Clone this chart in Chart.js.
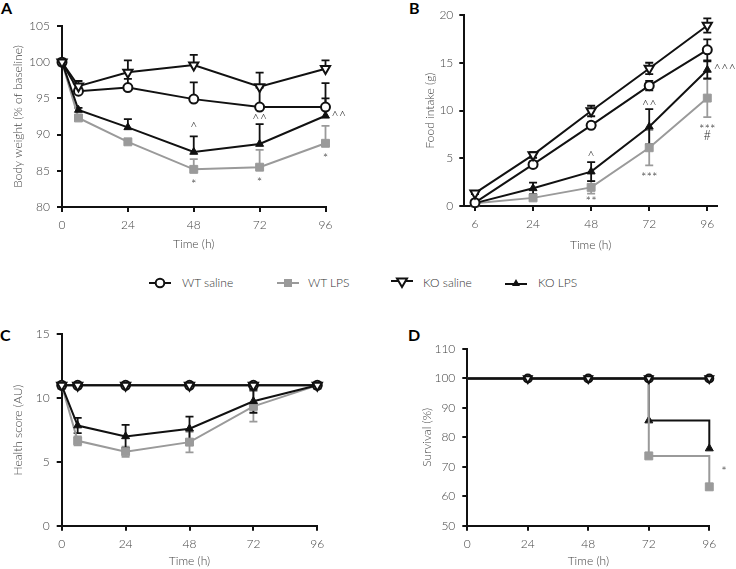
<!DOCTYPE html>
<html><head><meta charset="utf-8">
<script src="https://cdn.jsdelivr.net/npm/chart.js@4.4.0/dist/chart.umd.min.js"></script>
<style>
body{margin:0;background:#fff;width:736px;height:569px;position:relative;overflow:hidden;font-family:Lato,"Open Sans",sans-serif;}
canvas{position:absolute;}
.pl{position:absolute;font-weight:bold;font-size:16px;color:#000;line-height:16px;}
.leg{position:absolute;font-size:12px;font-weight:300;color:#333;line-height:14px;white-space:nowrap;}
svg{position:absolute;}
</style></head><body>
<div class="pl" style="left:1px;top:0px">A</div>
<div class="pl" style="left:409px;top:0px">B</div>
<div class="pl" style="left:0px;top:327px">C</div>
<div class="pl" style="left:408px;top:327px">D</div>

<svg style="left:148px;top:276px" width="24" height="14"><line x1="1" y1="7" x2="23" y2="7" stroke="#111" stroke-width="2"/><circle cx="12" cy="7" r="4.3" fill="#fff" stroke="#111" stroke-width="2"/></svg>
<div class="leg" style="left:182px;top:276px">WT saline</div>
<svg style="left:276px;top:276px" width="24" height="14"><line x1="1" y1="7" x2="23" y2="7" stroke="#9a9a9a" stroke-width="2"/><rect x="8" y="3" width="8" height="8" fill="#9a9a9a"/></svg>
<div class="leg" style="left:308px;top:276px">WT LPS</div>
<svg style="left:390px;top:276px" width="24" height="14"><line x1="1" y1="5" x2="23" y2="5" stroke="#111" stroke-width="2"/><polygon points="7,2.5 17,2.5 12,11" fill="#fff" stroke="#111" stroke-width="2"/></svg>
<div class="leg" style="left:423px;top:276px">KO saline</div>
<svg style="left:504px;top:276px" width="24" height="14"><line x1="1" y1="8" x2="23" y2="8" stroke="#111" stroke-width="2"/><polygon points="8,10 16,10 12,3" fill="#111"/></svg>
<div class="leg" style="left:538px;top:276px">KO LPS</div>

<canvas id="cA" width="368" height="260" style="left:0px;top:0px"></canvas>
<canvas id="cB" width="366" height="260" style="left:370px;top:0px"></canvas>
<canvas id="cC" width="368" height="279" style="left:0px;top:290px"></canvas>
<canvas id="cD" width="366" height="279" style="left:370px;top:290px"></canvas>

<script>
// ---------- DATA ----------
// Panel A: body weight (% of baseline)
const hoursA = [0, 6, 24, 48, 72, 96];
const A_wtSaline = [100, 96.0, 96.5, 94.9, 93.8, 93.8];
const A_wtLps    = [100, 92.3, 89.0, 85.2, 85.5, 88.8];
const A_koSaline = [100, 96.7, 98.6, 99.6, 96.6, 99.1];
const A_koLps    = [100, 93.4, 91.0, 87.6, 88.7, 92.6];
const A_wtSalineErr = [0, 0.5, 1.2, 2.3, 2.7, 3.3];
const A_wtLpsErr    = [0, 0.4, 0.4, 1.4, 2.4, 2.4];
const A_koSalineErr = [0, 0.7, 1.65, 1.4, 1.95, 1.15];
const A_koLpsErr    = [0, 0.3, 1.15, 2.15, 2.75, 2.4];
const A_xTicks = [0, 24, 48, 72, 96];
const A_yTicks = [80, 85, 90, 95, 100, 105];
const A_notes = [
  {x: 48, y: 91.0, t: '^'}, {x: 72, y: 92.1, t: '^^'}, {x: 100.8, y: 92.4, t: '^^'},
  {x: 48, y: 83.1, t: '*'}, {x: 72, y: 83.4, t: '*'}, {x: 96, y: 86.6, t: '*'}
];

// Panel B: food intake (g), categorical time points
const B_labels = ['6', '24', '48', '72', '96'];
const B_wtSaline = [0.35, 4.35, 8.45, 12.6, 16.35];
const B_wtLps    = [0.3, 0.85, 1.95, 6.1, 11.3];
const B_koSaline = [1.35, 5.35, 9.95, 14.4, 18.9];
const B_koLps    = [0.3, 1.85, 3.6, 8.3, 14.25];
const B_wtSalineErr = [0.1, 0.3, 0.3, 0.5, 1.1];
const B_wtLpsErr    = [0.1, 0.2, 0.65, 1.85, 2.0];
const B_koSalineErr = [0.1, 0.3, 0.55, 0.6, 0.75];
const B_koLpsErr    = [0.1, 0.6, 1.0, 1.85, 0.9];
const B_yTicks = [0, 5, 10, 15, 20];
const B_notes = [
  {x: 2, y: 5.2, t: '^'}, {x: 3, y: 10.5, t: '^^'}, {x: 4.30, y: 14.25, t: '^^^'},
  {x: 2, y: 0.45, t: '**'}, {x: 3, y: 2.9, t: '***'}, {x: 4, y: 7.95, t: '***'}, {x: 4, y: 7.3, t: '#'}
];

// Panel C: health score (AU)
const hoursC = [0, 6, 24, 48, 72, 96];
const C_wtSaline = [11, 11, 11, 11, 11, 11];
const C_wtLps    = [11, 6.65, 5.8, 6.55, 9.35, 11];
const C_koSaline = [11, 11, 11, 11, 11, 11];
const C_koLps    = [11, 7.85, 7.0, 7.6, 9.75, 11];
const C_wtLpsErr = [0, 0.35, 0.4, 0.8, 1.2, 0];
const C_koLpsErr = [0, 0.6, 0.9, 0.95, 0.9, 0];
const C_xTicks = [0, 24, 48, 72, 96];
const C_yTicks = [0, 5, 10, 15];

// Panel D: survival (%)
const hoursD = [0, 24, 48, 72, 96];
const D_wtSaline = [100, 100, 100, 100, 100];
const D_wtLps    = [100, 100, 100, 73.7, 63.2];
const D_koSaline = [100, 100, 100, 100, 100];
const D_koLps    = [100, 100, 100, 85.7, 76.2];
const D_xTicks = [0, 24, 48, 72, 96];
const D_yTicks = [50, 60, 70, 80, 90, 100, 110];
const D_notes = [{x: 101.8, y: 68.3, t: '*'}];

// ---------- STYLES ----------
const BLACK = '#111';
const GREY = '#9a9a9a';
const TXT = '#444';
Chart.defaults.font.family = 'Lato, "Open Sans", sans-serif';
Chart.defaults.font.size = 12;
Chart.defaults.font.weight = 300;
Chart.defaults.color = TXT;

const styles = {
  wtSaline: {borderColor: BLACK, pointStyle: 'circle', pointRadius: 4.5, pointBackgroundColor: '#fff', pointBorderColor: BLACK, pointBorderWidth: 2, order: 1},
  koSaline: {borderColor: BLACK, pointStyle: 'triangle', pointRotation: 180, pointRadius: 5.3, pointBackgroundColor: '#fff', pointBorderColor: BLACK, pointBorderWidth: 2, order: 0},
  koLps:    {borderColor: BLACK, pointStyle: 'triangle', pointRadius: 4.6, pointBackgroundColor: BLACK, pointBorderColor: BLACK, pointBorderWidth: 1, order: 2},
  wtLps:    {borderColor: GREY, pointStyle: 'rect', pointRadius: 5.6, pointBackgroundColor: GREY, pointBorderColor: GREY, pointBorderWidth: 1, order: 3}
};

function mk(label, xs, ys, key, errU, errD, extra) {
  return Object.assign({
    label, data: xs.map((x, i) => ({x, y: ys[i]})), vals: ys,
    errUp: errU || null, errDown: errD || null,
    borderWidth: 2, fill: false, tension: 0, clip: false
  }, styles[key], extra || {});
}

const errPlugin = {
  id: 'errbars',
  beforeDatasetsDraw(chart) {
    const ctx = chart.ctx, ys = chart.scales.y;
    const idx = chart.data.datasets.map((d, i) => i).sort((a, b) => chart.data.datasets[b].order - chart.data.datasets[a].order);
    idx.forEach(i => {
      const ds = chart.data.datasets[i];
      if (!ds.errUp && !ds.errDown) return;
      const meta = chart.getDatasetMeta(i);
      ctx.save();
      ctx.strokeStyle = ds.borderColor; ctx.lineWidth = 1.8;
      meta.data.forEach((pt, j) => {
        const v = ds.vals[j];
        const u = ds.errUp ? ds.errUp[j] : 0;
        const d = ds.errDown ? ds.errDown[j] : 0;
        if (!u && !d) return;
        const x = pt.x, yT = ys.getPixelForValue(v + u), yB = ys.getPixelForValue(v - d);
        ctx.beginPath();
        ctx.moveTo(x, yT); ctx.lineTo(x, yB);
        if (u) { ctx.moveTo(x - 4, yT); ctx.lineTo(x + 4, yT); }
        if (d) { ctx.moveTo(x - 4, yB); ctx.lineTo(x + 4, yB); }
        ctx.stroke();
      });
      ctx.restore();
    });
  }
};

function notesPlugin(items) {
  return {
    id: 'notes',
    afterDatasetsDraw(chart) {
      const ctx = chart.ctx, xs = chart.scales.x, ys = chart.scales.y;
      ctx.save();
      ctx.fillStyle = '#333';
      ctx.font = '300 13px Lato, "Open Sans", sans-serif';
      ctx.textAlign = 'center'; ctx.textBaseline = 'middle';
      items.forEach(n => ctx.fillText(n.t, xs.getPixelForValue(n.x), ys.getPixelForValue(n.y)));
      ctx.restore();
    }
  };
}

function axis(min, max, ticks, title, fitKey, fitVal, pad, labelCb, titlePad) {
  return {
    type: 'linear', min, max,
    afterBuildTicks: s => { s.ticks = ticks.map(v => ({value: v})); },
    afterFit: s => { s[fitKey] = fitVal; },
    grid: {display: true, drawOnChartArea: false, drawTicks: true, tickLength: 5, color: BLACK, lineWidth: 2},
    border: {display: true, color: BLACK, width: 2},
    ticks: {padding: pad, color: TXT, font: {size: 12, weight: 300}, callback: labelCb || (v => v)},
    title: {display: true, text: title, color: TXT, font: {size: 12, weight: 300}, padding: titlePad}
  };
}

function makeChart(id, datasets, xAxis, yAxis, padding, plugins) {
  return new Chart(document.getElementById(id), {
    type: 'line',
    data: {datasets},
    options: {
      responsive: false, animation: false, events: [],
      layout: {padding},
      plugins: {legend: {display: false}, tooltip: {enabled: false}},
      scales: {x: xAxis, y: yAxis}
    },
    plugins: [errPlugin].concat(plugins || [])
  });
}

// Panel A
makeChart('cA', [
  mk('WT saline', hoursA, A_wtSaline, 'wtSaline', A_wtSalineErr),
  mk('WT LPS', hoursA, A_wtLps, 'wtLps', A_wtLpsErr),
  mk('KO saline', hoursA, A_koSaline, 'koSaline', A_koSalineErr),
  mk('KO LPS', hoursA, A_koLps, 'koLps', A_koLpsErr)
],
  axis(0, 96, A_xTicks, 'Time (h)', 'height', 44.2, 6, null, {top: 4, bottom: 0}),
  axis(80, 105, A_yTicks, 'Body weight (% of baseline)', 'width', 55, 7, null, {top: 4, bottom: 4}),
  {left: 7, top: 26, right: 42.5, bottom: 8.8}, [notesPlugin(A_notes)]);

// Panel B
const idxB = B_labels.map((l, i) => i);
makeChart('cB', [
  mk('WT saline', idxB, B_wtSaline, 'wtSaline', B_wtSalineErr, B_wtSalineErr),
  mk('WT LPS', idxB, B_wtLps, 'wtLps', B_wtLpsErr, B_wtLpsErr),
  mk('KO saline', idxB, B_koSaline, 'koSaline', B_koSalineErr, B_koSalineErr),
  mk('KO LPS', idxB, B_koLps, 'koLps', B_koLpsErr, B_koLpsErr)
],
  axis(-0.184, 4.167, idxB, 'Time (h)', 'height', 46.2, 6, v => B_labels[Math.round(v)], {top: 4, bottom: 0}),
  axis(0, 20, B_yTicks, 'Food intake (g)', 'width', 45.5, 6, null, {top: 4, bottom: 4}),
  {left: 48.8, top: 15, right: 19, bottom: 7.8}, [notesPlugin(B_notes)]);

// Panel C
makeChart('cC', [
  mk('WT saline', hoursC, C_wtSaline, 'wtSaline'),
  mk('WT LPS', hoursC, C_wtLps, 'wtLps', C_wtLpsErr, C_wtLpsErr),
  mk('KO saline', hoursC, C_koSaline, 'koSaline'),
  mk('KO LPS', hoursC, C_koLps, 'koLps', C_koLpsErr, C_koLpsErr)
],
  axis(0, 96, C_xTicks, 'Time (h)', 'height', 42.5, 6, null, {top: 4, bottom: 0}),
  axis(0, 15, C_yTicks, 'Health score (AU)', 'width', 54.7, 7, null, {top: 4, bottom: 4}),
  {left: 7, top: 44.3, right: 50.7, bottom: 0.8}, []);

// Panel D
const rD = hoursD.map((h, i) => i === 0 ? 0 : 1);
function dStyle(key, r) { return {stepped: 'before', pointRadius: rD.map(v => v * r)}; }
makeChart('cD', [
  mk('WT saline', hoursD, D_wtSaline, 'wtSaline', null, null, dStyle('wtSaline', 4)),
  mk('WT LPS', hoursD, D_wtLps, 'wtLps', null, null, Object.assign(dStyle('wtLps', 5.6), {order: 1.5, pointRadius: [0, 0, 0, 5.6, 5.6]})),
  mk('KO saline', hoursD, D_koSaline, 'koSaline', null, null, dStyle('koSaline', 4.5)),
  mk('KO LPS', hoursD, D_koLps, 'koLps', null, null, Object.assign(dStyle('koLps', 4.6), {pointRadius: [0, 0, 0, 4.6, 4.6]}))
],
  axis(0, 96, D_xTicks, 'Time (h)', 'height', 42.5, 6, null, {top: 4, bottom: 0}),
  axis(50, 110, D_yTicks, 'Survival (%)', 'width', 51.8, 7, null, {top: 4, bottom: 4}),
  {left: 45.5, top: 59, right: 26.7, bottom: 0.8}, [notesPlugin(D_notes)]);
</script>
</body></html>
